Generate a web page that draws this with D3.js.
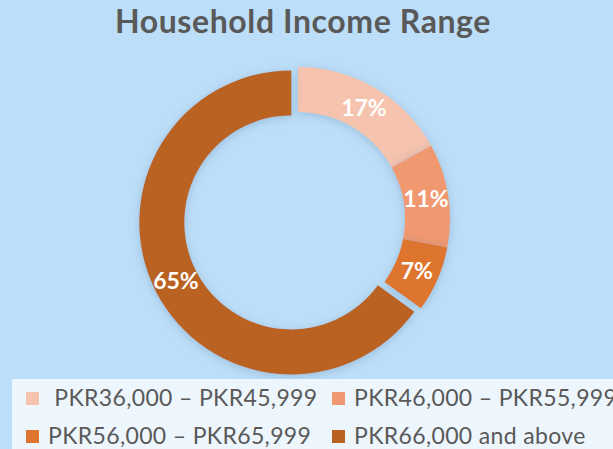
<!DOCTYPE html>
<html>
<head>
<meta charset="utf-8">
<script src="https://cdn.jsdelivr.net/npm/d3@7"></script>
<style>
  body { margin: 0; background: #bddef8; }
  svg { display: block; }
</style>
</head>
<body>
<svg id="chart"></svg>
<script>
var categories = [" PKR36,000 \u2013 PKR45,999", "PKR46,000 \u2013 PKR55,999", "PKR56,000 \u2013 PKR65,999", "PKR66,000 and above"];
var values = [17, 11, 7, 65];
var labels = ["17%", "11%", "7%", "65%"];
var colors = ["#f5c3ae", "#f09870", "#de742e", "#b96223"];

var WIDTH = 613, HEIGHT = 449;
var cx = 298, cy = 219, outerR = 152, innerR = 107;
var explode = [0, 0, 0, 7.5];

var svg = d3.select("#chart").attr("width", WIDTH).attr("height", HEIGHT);

svg.append("rect").attr("width", WIDTH).attr("height", HEIGHT).attr("fill", "#bddef8");

var defs = svg.append("defs");
var f = defs.append("filter").attr("id", "shadow")
    .attr("x", "-20%").attr("y", "-20%").attr("width", "140%").attr("height", "140%");
f.append("feDropShadow").attr("dx", 0).attr("dy", 2).attr("stdDeviation", 5)
    .attr("flood-color", "#5a7fa0").attr("flood-opacity", 0.35);

// title
svg.append("text")
    .attr("x", 303).attr("y", 33)
    .attr("text-anchor", "middle")
    .style("font-family", "Lato, 'Open Sans', sans-serif")
    .style("font-weight", "bold")
    .style("font-size", "32px")
    .style("letter-spacing", "0.6px")
    .attr("fill", "#595959")
    .text("Household Income Range");

var pie = d3.pie().sort(null).value(function(d) { return d; });
var arc = d3.arc().innerRadius(innerR).outerRadius(outerR);
var arcs = pie(values);

var g = svg.append("g").attr("transform", "translate(" + cx + "," + cy + ")");

g.selectAll("path.slice")
    .data(arcs)
  .enter().append("path")
    .attr("class", "slice")
    .attr("d", arc)
    .attr("fill", function(d, i) { return colors[i]; })
    .attr("filter", "url(#shadow)")
    .attr("transform", function(d, i) {
        var a = (d.startAngle + d.endAngle) / 2;
        return "translate(" + (Math.sin(a) * explode[i]) + "," + (-Math.cos(a) * explode[i]) + ")";
    });

g.selectAll("text.lbl")
    .data(arcs)
  .enter().append("text")
    .attr("class", "lbl")
    .attr("transform", function(d, i) {
        var a = (d.startAngle + d.endAngle) / 2;
        var c = arc.centroid(d);
        return "translate(" + (c[0] + Math.sin(a) * explode[i]) + "," + (c[1] - Math.cos(a) * explode[i]) + ")";
    })
    .attr("text-anchor", "middle")
    .attr("dy", "0.36em")
    .style("font-family", "Lato, 'Open Sans', sans-serif")
    .style("font-weight", "bold")
    .style("font-size", "23px")
    .attr("fill", "#ffffff")
    .text(function(d, i) { return labels[i]; });

// legend
svg.append("rect")
    .attr("x", 12).attr("y", 379).attr("width", 610).attr("height", 80)
    .attr("fill", "#eef6fd");

var legX = [26, 332], legY = [392, 430];
var leg = svg.selectAll("g.leg")
    .data(categories)
  .enter().append("g")
    .attr("class", "leg")
    .attr("transform", function(d, i) { return "translate(" + legX[i % 2] + "," + legY[Math.floor(i / 2)] + ")"; });

leg.append("rect")
    .attr("width", 13).attr("height", 13)
    .attr("fill", function(d, i) { return colors[i]; });

leg.append("text")
    .attr("x", 22).attr("y", 14)
    .style("white-space", "pre")
    .style("font-family", "Lato, 'Open Sans', sans-serif")
    .style("font-size", "23px")
    .style("letter-spacing", "0.35px")
    .attr("fill", "#595959")
    .text(function(d) { return d; });
</script>
</body>
</html>
